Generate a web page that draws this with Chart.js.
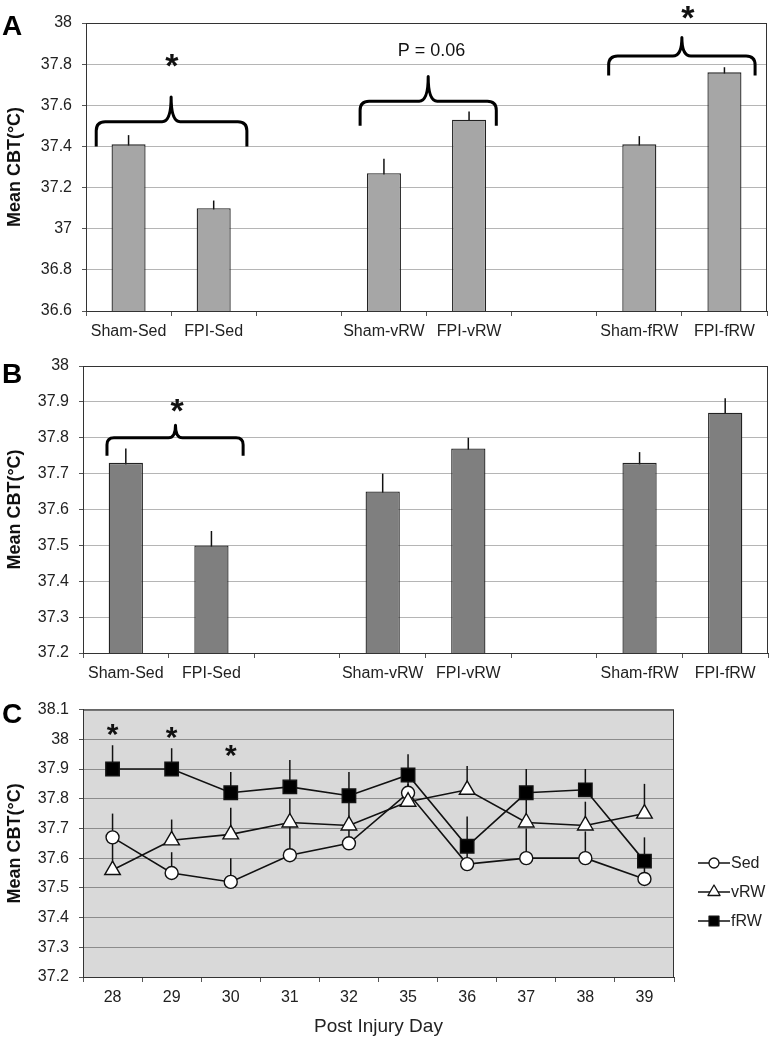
<!DOCTYPE html>
<html>
<head>
<meta charset="utf-8">
<script src="https://cdn.jsdelivr.net/npm/chart.js@4.4.1/dist/chart.umd.min.js"></script>
<style>
  body { margin: 0; background: #fff; }
  #wrap { position: relative; width: 771px; height: 1042px; }
  canvas { position: absolute; left: 0; }
</style>
</head>
<body>
<div id="wrap">
  <canvas id="chartA" width="771" height="345" style="top:0"></canvas>
  <canvas id="chartB" width="771" height="345" style="top:345px"></canvas>
  <canvas id="chartC" width="771" height="352" style="top:690px"></canvas>
</div>
<script>
// groups for panels A and B (blank slots are the gaps between pairs)
const groups = ['Sham-Sed', 'FPI-Sed', '', 'Sham-vRW', 'FPI-vRW', '', 'Sham-fRW', 'FPI-fRW'];
const cbtA = [37.41, 37.10, null, 37.27, 37.53, null, 37.41, 37.76];
const semA = [0.045, 0.037, null, 0.07, 0.04, null, 0.04, 0.025];
const cbtB = [37.73, 37.50, null, 37.65, 37.77, null, 37.73, 37.87];
const semB = [0.04, 0.04, null, 0.05, 0.03, null, 0.03, 0.04];

// panel C, post injury days
const days = ['28', '29', '30', '31', '32', '35', '36', '37', '38', '39'];
const sed = [37.67, 37.55, 37.52, 37.61, 37.65, 37.82, 37.58, 37.60, 37.60, 37.53];
const vrw = [37.56, 37.66, 37.68, 37.72, 37.71, 37.79, 37.83, 37.72, 37.71, 37.75];
const frw = [37.90, 37.90, 37.82, 37.84, 37.81, 37.88, 37.64, 37.82, 37.83, 37.59];
const semSed = [0.08, 0.07, 0.08, 0.10, 0.06, 0.05, 0.06, 0.10, 0.09, 0.07];
const semVrw = [0.10, 0.07, 0.09, 0.08, 0.10, 0.06, 0.08, 0.09, 0.08, 0.10];
const semFrw = [0.08, 0.07, 0.07, 0.09, 0.08, 0.07, 0.10, 0.08, 0.07, 0.08];

const FONT = '"Liberation Sans", Arial, Helvetica, sans-serif';
Chart.defaults.font.family = FONT;
Chart.defaults.font.size = 16;
Chart.defaults.color = '#222';

function fmt(v) { return String(Number(v.toFixed(1))); }

function drawBrace(ctx, x0, x1, xm, yTip, yLine, yPeak, r) {
  ctx.beginPath();
  ctx.moveTo(x0, yTip);
  ctx.lineTo(x0, yLine + r);
  ctx.quadraticCurveTo(x0, yLine, x0 + r, yLine);
  ctx.lineTo(xm - r, yLine);
  ctx.quadraticCurveTo(xm, yLine, xm, yPeak);
  ctx.quadraticCurveTo(xm, yLine, xm + r, yLine);
  ctx.lineTo(x1 - r, yLine);
  ctx.quadraticCurveTo(x1, yLine, x1, yLine + r);
  ctx.lineTo(x1, yTip);
  ctx.stroke();
}

const extras = {
  id: 'extras',
  beforeDraw(chart, args, o) {
    const { ctx, chartArea: a } = chart;
    if (o.plotBg) {
      ctx.save();
      ctx.fillStyle = o.plotBg;
      ctx.fillRect(a.left, a.top, a.right - a.left, a.bottom - a.top);
      ctx.restore();
    }
  },
  beforeDatasetsDraw(chart, args, o) {
    if (!o.errors) return;
    const { ctx } = chart;
    const ys = chart.scales.y;
    ctx.save();
    ctx.strokeStyle = '#111';
    ctx.lineWidth = 1.5;
    o.errors.forEach(e => {
      const meta = chart.getDatasetMeta(e.dataset);
      const vals = chart.data.datasets[e.dataset].data;
      meta.data.forEach((el, i) => {
        if (vals[i] == null || e.sem[i] == null) return;
        const top = ys.getPixelForValue(vals[i] + e.sem[i]);
        const bot = e.upOnly ? ys.getPixelForValue(vals[i]) : ys.getPixelForValue(vals[i] - e.sem[i]);
        ctx.beginPath();
        ctx.moveTo(el.x, bot);
        ctx.lineTo(el.x, top);
        ctx.stroke();
      });
    });
    ctx.restore();
  },
  afterDraw(chart, args, o) {
    const { ctx, chartArea: a } = chart;
    const xs = chart.scales.x, ys = chart.scales.y;
    ctx.save();
    // plot frame
    ctx.strokeStyle = '#333';
    ctx.lineWidth = 1;
    ctx.strokeRect(a.left + 0.5, a.top + 0.5, a.right - a.left - 1, a.bottom - a.top);
    // braces
    ctx.strokeStyle = '#000';
    ctx.lineWidth = 3;
    ctx.lineJoin = 'round';
    (o.braces || []).forEach(b => {
      drawBrace(ctx, xs.getPixelForValue(b.from), xs.getPixelForValue(b.to), xs.getPixelForValue(b.mid),
        ys.getPixelForValue(b.tip), ys.getPixelForValue(b.line), ys.getPixelForValue(b.peak), b.r);
    });
    // notes (asterisks, p value), centred on their glyphs
    ctx.fillStyle = '#111';
    ctx.textAlign = 'center';
    ctx.textBaseline = 'alphabetic';
    (o.notes || []).forEach(n => {
      ctx.font = n.font;
      const m = ctx.measureText(n.text);
      const x = xs.getPixelForValue(n.x);
      const y = ys.getPixelForValue(n.y) + (m.actualBoundingBoxAscent - m.actualBoundingBoxDescent) / 2;
      ctx.fillText(n.text, x, y);
    });
    // panel letter
    if (o.letter) {
      ctx.textAlign = 'left';
      ctx.font = 'bold 28px ' + FONT;
      ctx.fillStyle = '#000';
      ctx.fillText(o.letter, 2, o.letterY);
    }
    // legend with line + marker
    if (o.legend) {
      const L = o.legend;
      chart.data.datasets.forEach((ds, i) => {
        const y = L.y + i * L.dy;
        ctx.strokeStyle = '#111';
        ctx.lineWidth = 1.5;
        ctx.beginPath();
        ctx.moveTo(L.x, y);
        ctx.lineTo(L.x + 32, y);
        ctx.stroke();
        ctx.fillStyle = ds.pointBackgroundColor;
        ctx.strokeStyle = '#111';
        ctx.lineWidth = 1.3;
        Chart.helpers.drawPoint(ctx, { pointStyle: ds.pointStyle, radius: L.radius[i], rotation: 0, borderWidth: 1.3 }, L.x + 16, y);
        ctx.fillStyle = '#222';
        ctx.font = '16px ' + FONT;
        ctx.textBaseline = 'middle';
        ctx.fillText(ds.label, L.x + 33, y + 1);
        ctx.textBaseline = 'alphabetic';
      });
    }
    ctx.restore();
  }
};
Chart.register(extras);

function barScales(min, max, step, yWidth, xHeight) {
  return {
    x: {
      grid: { display: true, drawOnChartArea: false, offset: true, tickLength: 5, color: '#555' },
      border: { color: '#333' },
      ticks: { padding: 6, maxRotation: 0, autoSkip: false, font: { size: 16 } },
      afterFit: s => { s.height = xHeight; }
    },
    y: {
      min: min, max: max,
      ticks: { stepSize: step, padding: 10, callback: fmt, font: { size: 16 } },
      grid: { color: '#b5b5b5', tickColor: '#555', tickLength: 4 },
      border: { color: '#333' },
      title: { display: true, text: 'Mean CBT(°C)', font: { size: 18, weight: 'bold' }, padding: { top: 4, bottom: 0 }, color: '#111' },
      afterFit: s => { s.width = yWidth; }
    }
  };
}

new Chart(document.getElementById('chartA'), {
  type: 'bar',
  data: {
    labels: groups,
    datasets: [{ data: cbtA, backgroundColor: '#a6a6a6', borderColor: '#222', borderWidth: 1.3,
      categoryPercentage: 1, barPercentage: 0.4 }]
  },
  options: {
    responsive: false, animation: false, devicePixelRatio: 1,
    layout: { padding: { left: 0, top: 23, right: 4, bottom: 0 } },
    scales: barScales(36.6, 38, 0.2, 86, 34),
    plugins: {
      legend: { display: false }, tooltip: { enabled: false },
      extras: {
        letter: 'A', letterY: 35,
        errors: [{ dataset: 0, sem: semA }],
        braces: [
          { from: -0.38, to: 1.39, mid: 0.5, tip: 37.40, line: 37.52, peak: 37.64, r: 9 },
          { from: 2.72, to: 4.32, mid: 3.52, tip: 37.50, line: 37.62, peak: 37.74, r: 9 },
          { from: 5.64, to: 7.36, mid: 6.5, tip: 37.745, line: 37.84, peak: 37.93, r: 9 }
        ],
        notes: [
          { x: 0.51, y: 37.82, text: '*', font: 'bold 34px ' + FONT },
          { x: 3.56, y: 37.87, text: 'P = 0.06', font: '18px ' + FONT },
          { x: 6.57, y: 38.05, text: '*', font: 'bold 34px ' + FONT }
        ]
      }
    }
  }
});

new Chart(document.getElementById('chartB'), {
  type: 'bar',
  data: {
    labels: groups,
    datasets: [{ data: cbtB, backgroundColor: '#7f7f7f', borderColor: '#222', borderWidth: 1.3,
      categoryPercentage: 1, barPercentage: 0.4 }]
  },
  options: {
    responsive: false, animation: false, devicePixelRatio: 1,
    layout: { padding: { left: 0, top: 21, right: 3, bottom: 0 } },
    scales: barScales(37.2, 38, 0.1, 83, 37),
    plugins: {
      legend: { display: false }, tooltip: { enabled: false },
      extras: {
        letter: 'B', letterY: 38,
        errors: [{ dataset: 0, sem: semB }],
        braces: [
          { from: -0.22, to: 1.37, mid: 0.58, tip: 37.75, line: 37.80, peak: 37.835, r: 7 }
        ],
        notes: [
          { x: 0.6, y: 37.89, text: '*', font: 'bold 34px ' + FONT }
        ]
      }
    }
  }
});

const lineBase = { borderColor: '#111', borderWidth: 1.6, pointBorderColor: '#111', pointBorderWidth: 1.4 };
new Chart(document.getElementById('chartC'), {
  type: 'line',
  data: {
    labels: days,
    datasets: [
      Object.assign({ label: 'Sed', data: sed, pointStyle: 'circle', pointRadius: 6.5, pointBackgroundColor: '#fff', order: 3 }, lineBase),
      Object.assign({ label: 'vRW', data: vrw, pointStyle: 'triangle', pointRadius: 9, pointBackgroundColor: '#fff', order: 2 }, lineBase),
      Object.assign({ label: 'fRW', data: frw, pointStyle: 'rect', pointRadius: 9.5, pointBackgroundColor: '#000', order: 1 }, lineBase)
    ]
  },
  options: {
    responsive: false, animation: false, devicePixelRatio: 1,
    layout: { padding: { left: 0, top: 19, right: 97, bottom: 0 } },
    scales: {
      x: {
        offset: true,
        grid: { display: true, drawOnChartArea: false, offset: true, tickLength: 5, color: '#555' },
        border: { color: '#333' },
        ticks: { padding: 6, maxRotation: 0, font: { size: 16 } },
        title: { display: true, text: 'Post Injury Day', font: { size: 19 }, padding: { top: 0, bottom: 4 }, color: '#222' },
        afterFit: s => { s.height = 65; }
      },
      y: {
        min: 37.2, max: 38.1,
        ticks: { stepSize: 0.1, padding: 10, callback: fmt, font: { size: 16 } },
        grid: { color: '#8c8c8c', tickColor: '#555', tickLength: 4 },
        border: { color: '#333' },
        title: { display: true, text: 'Mean CBT(°C)', font: { size: 18, weight: 'bold' }, padding: { top: 4, bottom: 0 }, color: '#111' },
        afterFit: s => { s.width = 83; }
      }
    },
    plugins: {
      legend: { display: false }, tooltip: { enabled: false },
      extras: {
        plotBg: '#d9d9d9',
        letter: 'C', letterY: 33,
        errors: [
          { dataset: 0, sem: semSed, upOnly: true },
          { dataset: 1, sem: semVrw, upOnly: true },
          { dataset: 2, sem: semFrw, upOnly: true }
        ],
        notes: [
          { x: 0, y: 38.03, text: '*', font: 'bold 30px ' + FONT },
          { x: 1, y: 38.02, text: '*', font: 'bold 30px ' + FONT },
          { x: 2, y: 37.96, text: '*', font: 'bold 30px ' + FONT }
        ],
        legend: { x: 698, y: 173, dy: 29, radius: [5, 7, 7] }
      }
    }
  }
});
</script>
</body>
</html>
